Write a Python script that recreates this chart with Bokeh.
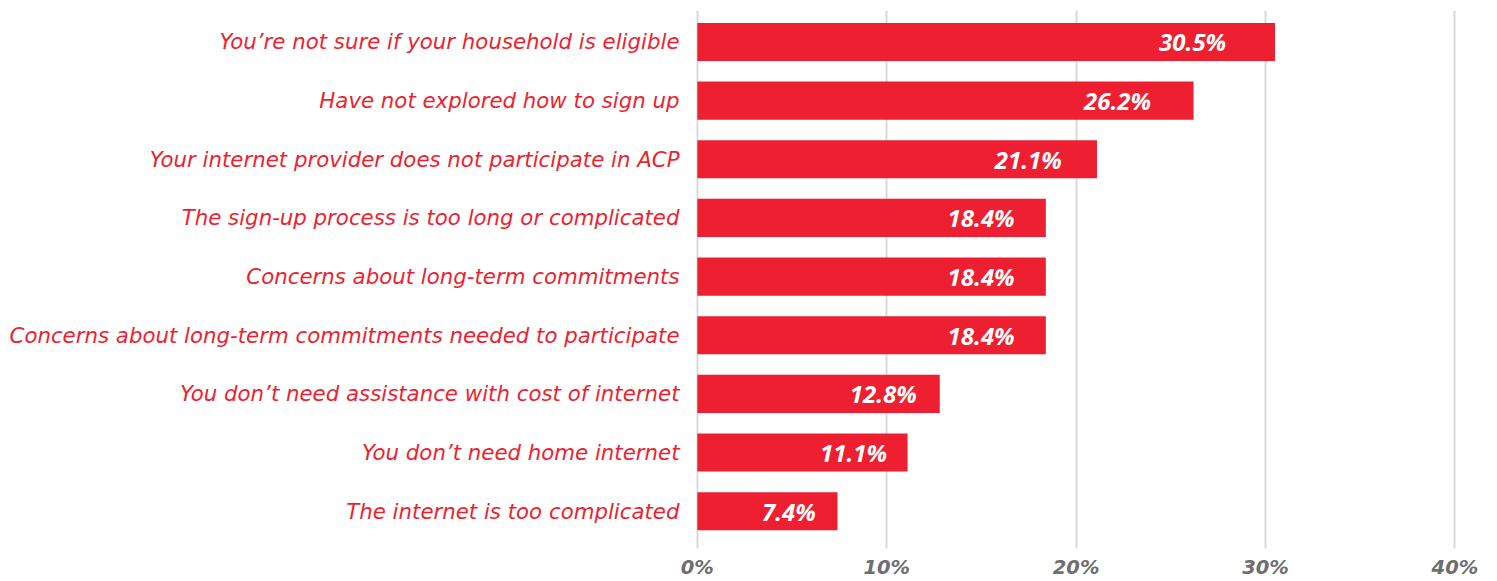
from bokeh.plotting import figure
from bokeh.models import ColumnDataSource, FixedTicker, PrintfTickFormatter, Range1d, CustomJSTickFormatter
from bokeh.core.properties import value
from bokeh.embed import file_html
from bokeh.resources import INLINE

categories = [
    "You\u2019re not sure if your household is eligible",
    "Have not explored how to sign up",
    "Your internet provider does not participate in ACP",
    "The sign-up process is too long or complicated",
    "Concerns about long-term commitments",
    "Concerns about long-term commitments needed to participate",
    "You don\u2019t need assistance with cost of internet",
    "You don\u2019t need home internet",
    "The internet is too complicated",
]
values = [30.5, 26.2, 21.1, 18.4, 18.4, 18.4, 12.8, 11.1, 7.4]
value_labels = ["30.5%", "26.2%", "21.1%", "18.4%", "18.4%", "18.4%", "12.8%", "11.1%", "7.4%"]
x_ticks = [0, 10, 20, 30, 40]

RED = "#ED1F30"

pos = list(range(len(categories)))
label_x = [v * 0.923 - 2.0 for v in values]
src = ColumnDataSource(dict(pos=pos, cat=categories, val=values, lab=value_labels, lx=label_x))

p = figure(
    x_range=Range1d(-0.15, 40.4),
    y_range=Range1d(len(categories) - 1 + 0.636, -0.536),
    width=1490, height=581,
    output_backend="svg", toolbar_location=None,
    min_border_left=694, min_border_right=28, min_border_top=10, min_border_bottom=23,
)
p.outline_line_color = None
p.background_fill_color = "white"

p.hbar(y="pos", right="val", left=0, height=0.65, source=src, color=RED, line_color=None)

p.text(x="lx", y="pos", text="lab", source=src, text_align="center", text_baseline="middle",
       text_color="white", text_font=value("Open Sans"), text_font_style="bold italic",
       text_font_size="24px")

p.xaxis.ticker = FixedTicker(ticks=x_ticks)
p.xaxis.formatter = PrintfTickFormatter(format="%d%%")
p.xaxis.axis_line_color = None
p.xaxis.major_tick_line_color = None
p.xaxis.minor_tick_line_color = None
p.xaxis.major_label_text_font = "DejaVu Sans"
p.xaxis.major_label_text_font_style = "bold italic"
p.xaxis.major_label_text_font_size = "19.5px"
p.xaxis.major_label_text_color = "#6D6E71"
p.xaxis.major_label_standoff = 1

p.yaxis.ticker = FixedTicker(ticks=pos)
p.yaxis.formatter = CustomJSTickFormatter(args=dict(cats=categories),
                                          code="return cats[Math.round(tick)] || '';")
p.yaxis.axis_line_color = None
p.yaxis.major_tick_line_color = None
p.yaxis.minor_tick_line_color = None
p.yaxis.major_label_text_font = "DejaVu Sans"
p.yaxis.major_label_text_font_style = "italic"
p.yaxis.major_label_text_font_size = "21.3px"
p.yaxis.major_label_text_color = RED
p.yaxis.major_label_standoff = 9

p.ygrid.grid_line_color = None
p.xgrid.ticker = FixedTicker(ticks=x_ticks)
p.xgrid.grid_line_color = "#D9D9D9"
p.xgrid.grid_line_width = 2

open("out.html", "w").write(file_html(p, INLINE))
